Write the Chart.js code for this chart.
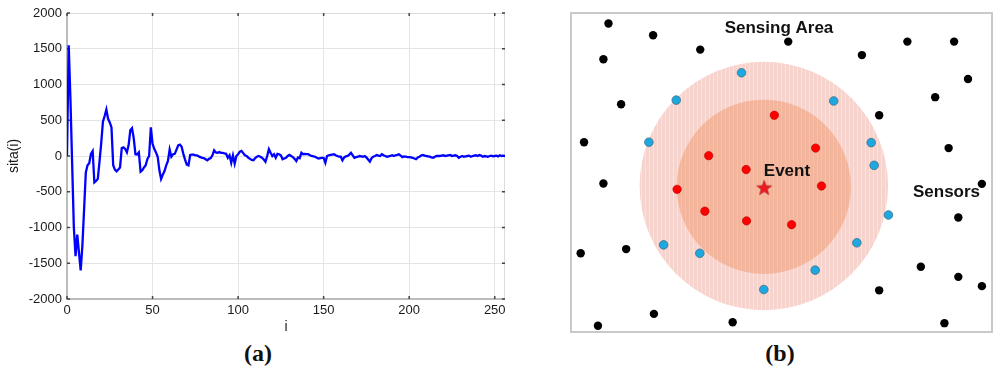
<!DOCTYPE html>
<html>
<head>
<meta charset="utf-8">
<script src="https://cdn.jsdelivr.net/npm/chart.js@4.4.1/dist/chart.umd.min.js"></script>
<style>
  body { margin: 0; background: #fff; width: 1000px; height: 379px; position: relative; overflow: hidden; }
  #sita { position: absolute; left: 0; top: 0; }
  #area { position: absolute; left: 560px; top: 0; }
  .cap { position: absolute; top: 340px; width: 60px; line-height: 30px; text-align: center;
         font: bold 24px "Times New Roman", "Liberation Serif", serif; color: #111; }
</style>
</head>
<body>
<canvas id="sita" width="545" height="340"></canvas>
<canvas id="area" width="440" height="340"></canvas>
<div class="cap" style="left:228px">(a)</div>
<div class="cap" style="left:750px">(b)</div>
<script>
// (a) sita(i) for i = 0..256
var sitaValues = [
    0, 1550, 800, -100, -1000, -1400, -1100, -1350, -1600, -1250,
    -740, -230, -130, -100, 30, 70, -370, -350, -320, -80,
    180, 480, 560, 650, 520, 470, 400, -130, -190, -215,
    -190, -160, 110, 120, 100, 50, 150, 360, 390, 250,
    25, 20, 50, -220, -200, -160, -130, -40, 0, 400,
    170, 100, 50, -10, -200, -320, -260, -210, -130, -70,
    90, -10, 25, 30, 90, 150, 160, 130, 30, -50,
    -120, -130, 15, 20, 20, 10, 10, -5, -15, -25,
    -30, -45, -60, -40, -30, 10, 80, 50, 45, 55,
    45, 45, 35, 30, -25, 10, -95, 10, -105, 0,
    25, 60, 70, 40, 10, 0, -25, -40, -55, -60,
    -30, -10, 0, -10, -25, -50, -80, 0, 95, 45,
    0, 25, -25, 30, 25, 10, -45, -35, -25, 0,
    15, 0, -15, -40, -70, -20, -30, 45, 25, 30,
    25, 25, 10, 0, -5, -10, -25, -35, -30, -25,
    -25, -95, 0, 10, 15, 20, 25, 10, 0, -10,
    -10, -60, -20, -5, 0, 20, 45, 10, -25, -15,
    -10, 0, -5, -10, 0, -20, -50, -80, -30, -10,
    0, 15, 5, 0, 25, 10, 0, -10, -5, 0,
    10, 0, 10, 15, 25, 5, -15, -5, -10, -15,
    -15, -20, -25, -35, -45, -20, -10, 5, 15, 5,
    0, -5, -10, -20, -25, -10, 0, 0, 0, 5,
    10, 0, 5, 10, 15, 0, 5, 10, 0, -25,
    -10, 0, -10, -5, 0, 5, -10, 0, 5, 10,
    0, 15, 5, -10, 0, -5, -10, 0, 5, -5,
    0, 5, -5, 10, 0, 5, 0
];
var xTicks = [0, 50, 100, 150, 200, 250];
var yTicks = [-2000, -1500, -1000, -500, 0, 500, 1000, 1500, 2000];

// (b) sensor positions in sensing-area units (0..100 wide)
var blackX = [8.9, 19.5, 7.7, 30.7, 51.6, 69.1, 79.9, 91.0, 94.3, 86.5, 73.2, 11.9, 3.1, 89.7,
              7.7, 97.6, 92.0, 2.3, 13.1, 83.1, 92.0, 97.6, 73.2, 19.7, 6.4, 38.4, 88.7];
var blackY = [73.3, 70.5, 64.8, 67.1, 69.0, 65.8, 69.0, 69.0, 60.1, 55.8, 51.5, 54.1, 45.1, 43.7,
              35.3, 35.2, 27.2, 18.7, 19.7, 15.5, 13.1, 10.9, 9.9, 4.3, 1.5, 2.3, 2.1];
var blueX = [40.5, 25.0, 62.4, 18.5, 71.3, 72.0, 75.4, 22.0, 30.6, 67.9, 58.0, 45.8];
var blueY = [61.6, 55.1, 54.9, 45.1, 45.0, 39.6, 27.8, 20.7, 18.7, 21.2, 14.7, 10.1];
var redX = [48.3, 58.1, 32.7, 41.6, 59.5, 25.2, 31.8, 41.7, 52.4];
var redY = [51.5, 43.7, 41.9, 38.6, 34.7, 33.9, 28.7, 26.4, 25.5];
var eventX = [45.9];
var eventY = [34.3];
var rangeNames = ['outer', 'inner'];
var rangeCenterX = [45.8, 45.8];
var rangeCenterY = [34.7, 34.5];
var rangeRadius = [29.5, 20.7];
var areaLabels = ['Sensing Area', 'Event', 'Sensors'];

function toPoints(xs, ys) {
    return xs.map(function(x, k) { return {x: x, y: ys[k]}; });
}

// light gray frame plus small inward ticks, matlab style
var frameTicks = {
    id: 'frameTicks',
    beforeDatasetsDraw: function(chart) {
        var a = chart.chartArea, ctx = chart.ctx;
        ctx.save();
        ctx.strokeStyle = '#dcdcdc';
        ctx.lineWidth = 1;
        ctx.beginPath();
        ctx.moveTo(a.left, a.top + 0.5); ctx.lineTo(a.right - 0.5, a.top + 0.5);
        ctx.lineTo(a.right - 0.5, a.bottom);
        ctx.stroke();
        ctx.strokeStyle = '#bcbcbc';
        ctx.lineWidth = 2;
        ctx.beginPath();
        ctx.moveTo(a.left, a.top); ctx.lineTo(a.left, a.bottom); ctx.lineTo(a.right, a.bottom);
        ctx.stroke();
        ctx.strokeStyle = '#444';
        ctx.lineWidth = 1.5;
        ctx.beginPath();
        chart.scales.x.ticks.forEach(function(t) {
            var px = chart.scales.x.getPixelForValue(t.value);
            ctx.moveTo(px, a.top); ctx.lineTo(px, a.top + 3);
            ctx.moveTo(px, a.bottom); ctx.lineTo(px, a.bottom - 3);
        });
        chart.scales.y.ticks.forEach(function(t) {
            var py = chart.scales.y.getPixelForValue(t.value);
            ctx.moveTo(a.left, py); ctx.lineTo(a.left + 3, py);
            ctx.moveTo(a.right, py); ctx.lineTo(a.right - 3, py);
        });
        ctx.stroke();
        ctx.restore();
    }
};

var tickFont = {family: 'Arial, "Liberation Sans", sans-serif', size: 13};
var plainNumber = function(v) { return String(v); };

new Chart(document.getElementById('sita').getContext('2d'), {
    type: 'line',
    data: {
        datasets: [{
            label: 'sita(i)',
            data: sitaValues.map(function(v, i) { return {x: i, y: v}; }),
            borderColor: '#0000ff',
            borderWidth: 2.3,
            pointRadius: 0,
            tension: 0,
            fill: false
        }]
    },
    options: {
        responsive: false,
        animation: false,
        events: [],
        layout: {padding: {left: 0, top: 13, right: 40, bottom: 0}},
        plugins: {legend: {display: false}, tooltip: {enabled: false}},
        scales: {
            x: {
                type: 'linear', min: 0, max: 256,
                afterBuildTicks: function(s) { s.ticks = xTicks.map(function(v) { return {value: v}; }); },
                afterFit: function(s) { s.height = 41; },
                grid: {color: '#e4e4e4', lineWidth: 1, drawTicks: false},
                border: {display: false},
                ticks: {font: tickFont, color: '#1a1a1a', padding: 4, maxRotation: 0, callback: plainNumber},
                title: {display: true, text: 'i', font: {family: tickFont.family, size: 14}, color: '#1a1a1a', padding: {top: 0, bottom: 4}}
            },
            y: {
                type: 'linear', min: -2000, max: 2000,
                afterBuildTicks: function(s) { s.ticks = yTicks.map(function(v) { return {value: v}; }); },
                afterFit: function(s) { s.width = 67; },
                grid: {color: '#e4e4e4', lineWidth: 1, drawTicks: false},
                border: {display: false},
                ticks: {font: tickFont, color: '#1a1a1a', padding: 5, callback: plainNumber},
                title: {display: true, text: 'sita(i)', font: {family: tickFont.family, size: 14}, color: '#1a1a1a', padding: {top: 6, bottom: 0}}
            }
        }
    },
    plugins: [frameTicks]
});

// ---- (b) sensing area ----
function stripes(base, light) {
    var c = document.createElement('canvas');
    c.width = 4; c.height = 4;
    var g = c.getContext('2d');
    g.fillStyle = base; g.fillRect(0, 0, 4, 4);
    g.fillStyle = light; g.fillRect(1, 0, 1, 4);
    return g.createPattern(c, 'repeat');
}

function starImage() {
    var c = document.createElement('canvas');
    c.width = 18; c.height = 18;
    var g = c.getContext('2d');
    g.beginPath();
    for (var k = 0; k < 10; k++) {
        var r = k % 2 === 0 ? 7.8 : 3.2;
        var ang = -Math.PI / 2 + k * Math.PI / 5;
        var px = 9 + r * Math.cos(ang), py = 9.6 + r * Math.sin(ang);
        if (k === 0) g.moveTo(px, py); else g.lineTo(px, py);
    }
    g.closePath();
    g.fillStyle = '#ee1c22';
    g.fill();
    g.strokeStyle = '#a80f12';
    g.lineWidth = 0.6;
    g.stroke();
    return c;
}

function unitsToPx(chart, u) {
    var s = chart.scales.x;
    return Math.abs(s.getPixelForValue(u) - s.getPixelForValue(0));
}

var areaFrameLabels = {
    id: 'areaFrameLabels',
    beforeDatasetsDraw: function(chart) {
        var a = chart.chartArea, ctx = chart.ctx;
        ctx.save();
        ctx.strokeStyle = '#c9c9c9';
        ctx.lineWidth = 2;
        ctx.strokeRect(a.left, a.top, a.right - a.left, a.bottom - a.top);
        ctx.restore();
    },
    afterDatasetsDraw: function(chart) {
        var ctx = chart.ctx, sx = chart.scales.x, sy = chart.scales.y;
        var spots = [[49.4, 72.1], [51.3, 38.1], [89.2, 33.1]];
        ctx.save();
        ctx.fillStyle = '#111';
        ctx.font = 'bold 17px Arial, "Liberation Sans", sans-serif';
        ctx.textAlign = 'center';
        ctx.textBaseline = 'middle';
        areaLabels.forEach(function(txt, k) {
            ctx.fillText(txt, sx.getPixelForValue(spots[k][0]), sy.getPixelForValue(spots[k][1]));
        });
        ctx.restore();
    }
};

var actx = document.getElementById('area').getContext('2d');
var rangeFills = [stripes('#f7d3cd', '#fae3df'), stripes('#f3b69d', '#f5c0a9')];

var areaSets = [
    {label: 'Event', data: toPoints(eventX, eventY), pointStyle: starImage(), order: 0},
    {label: 'red', data: toPoints(redX, redY), pointRadius: 4.2, backgroundColor: '#ff0000',
     borderColor: '#b30000', borderWidth: 0.6, order: 1},
    {label: 'blue', data: toPoints(blueX, blueY), pointRadius: 4.3, backgroundColor: '#1ea8e2',
     borderColor: '#3f6e82', borderWidth: 0.8, order: 2},
    {label: 'black', data: toPoints(blackX, blackY), pointRadius: 4.2, backgroundColor: '#000',
     borderWidth: 0, order: 3}
];
rangeNames.forEach(function(name, k) {
    areaSets.push({
        label: name,
        data: [{x: rangeCenterX[k], y: rangeCenterY[k]}],
        pointRadius: function(c) { return unitsToPx(c.chart, rangeRadius[k]); },
        backgroundColor: rangeFills[k],
        borderWidth: 0,
        order: 10 - k
    });
});

new Chart(actx, {
    type: 'scatter',
    data: {datasets: areaSets},
    options: {
        responsive: false,
        animation: false,
        events: [],
        layout: {padding: {left: 11, top: 13, right: 8, bottom: 8}},
        plugins: {legend: {display: false}, tooltip: {enabled: false}},
        scales: {
            x: {type: 'linear', min: 0, max: 100, display: false},
            y: {type: 'linear', min: 0, max: 75.8, display: false}
        }
    },
    plugins: [areaFrameLabels]
});
</script>
</body>
</html>
